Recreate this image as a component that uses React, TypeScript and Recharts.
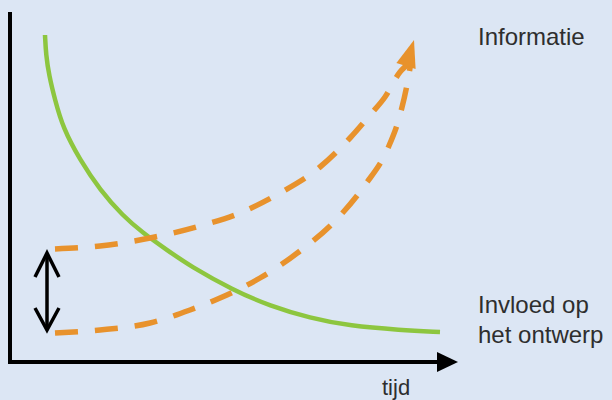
import { LineChart, Line, XAxis, YAxis, ReferenceLine, ReferenceDot } from 'recharts';

// tijd (x) en niveau (y)
const informatie = [
  { t: 35, v: 327 }, { t: 36, v: 307 }, { t: 39, v: 287 }, { t: 45, v: 262 },
  { t: 53, v: 234 }, { t: 70, v: 202 }, { t: 90, v: 172 }, { t: 113, v: 146 },
  { t: 133, v: 129 }, { t: 157, v: 112 }, { t: 180, v: 96 }, { t: 223, v: 72 },
  { t: 260, v: 56 }, { t: 300, v: 44 }, { t: 340, v: 36 }, { t: 390, v: 32 },
  { t: 430, v: 30 },
];

const invloedBoven = [
  { t: 45, v: 113 }, { t: 90, v: 116 }, { t: 140, v: 124 }, { t: 190, v: 136 },
  { t: 230, v: 149 }, { t: 270, v: 169 }, { t: 310, v: 195 }, { t: 340, v: 224 },
  { t: 360, v: 247 }, { t: 375, v: 265 }, { t: 390, v: 290 }, { t: 401, v: 300 },
];

const invloedOnder = [
  { t: 45, v: 29 }, { t: 90, v: 32 }, { t: 140, v: 39 }, { t: 180, v: 52 },
  { t: 210, v: 64 }, { t: 250, v: 84 }, { t: 290, v: 111 }, { t: 325, v: 141 },
  { t: 355, v: 177 }, { t: 378, v: 214 }, { t: 390, v: 247 }, { t: 397, v: 277 },
  { t: 401, v: 300 },
];

const pijlPunt = { t: 404, v: 322 };
const dubbelePijl = { t: 37, boven: 109, onder: 32 };
const asEinde = { t: 448, v: 350 };

const labels = {
  info: 'Informatie',
  invloed: ['Invloed op', 'het ontwerp'],
  tijd: 'tijd',
};

const GREEN = '#8dc63f';
const ORANGE = '#e8922c';
const BG = '#dce6f4';

const xArrow = (p: any) => (
  <polygon points={`${p.cx},${p.cy} ${p.cx - 21},${p.cy - 10} ${p.cx - 21},${p.cy + 10}`} fill="#000" />
);

const orangeHead = (p: any) => {
  const { cx, cy } = p;
  // punt schuin naar boven
  return (
    <polygon
      points={`${cx},${cy} ${cx + 1.6},${cy + 28.9} ${cx - 17.6},${cy + 23.1}`}
      fill={ORANGE}
    />
  );
};

const chevronUp = (p: any) => (
  <polyline
    points={`${p.cx - 12},${p.cy + 24} ${p.cx},${p.cy} ${p.cx + 12},${p.cy + 24}`}
    fill="none" stroke="#000" strokeWidth={3.5}
  />
);

const chevronDown = (p: any) => (
  <polyline
    points={`${p.cx - 12},${p.cy - 22} ${p.cx},${p.cy} ${p.cx + 12},${p.cy - 22}`}
    fill="none" stroke="#000" strokeWidth={3.5}
  />
);

const txt = { position: 'absolute' as const, fontFamily: '"Liberation Sans", Arial, sans-serif', color: '#2e2e2e', whiteSpace: 'nowrap' as const };

export default function App() {
  return (
    <div style={{ position: 'absolute', left: 0, top: 0, width: 612, height: 400, background: BG, overflow: 'hidden' }}>
      <LineChart width={612} height={400} margin={{ top: 13, right: 154, bottom: 38, left: 10 }}>
        <XAxis type="number" dataKey="t" domain={[0, 448]} hide allowDataOverflow />
        <YAxis type="number" dataKey="v" domain={[0, 349]} hide allowDataOverflow />
        <ReferenceLine segment={[{ x: 0, y: asEinde.v }, { x: 0, y: -2 }]} ifOverflow="visible" stroke="#000" strokeWidth={4} />
        <ReferenceLine segment={[{ x: -2, y: 0 }, { x: asEinde.t - 12, y: 0 }]} ifOverflow="visible" stroke="#000" strokeWidth={4} />
        <ReferenceDot x={asEinde.t} y={0} ifOverflow="visible" shape={xArrow} />
        <Line data={informatie} dataKey="v" type="basis" stroke={GREEN} strokeWidth={4.5} dot={false} isAnimationActive={false} />
        <Line data={invloedBoven} dataKey="v" type="monotone" stroke={ORANGE} strokeWidth={5.5} strokeDasharray="23 17" dot={false} isAnimationActive={false} />
        <Line data={invloedOnder} dataKey="v" type="monotone" stroke={ORANGE} strokeWidth={5.5} strokeDasharray="23 17" dot={false} isAnimationActive={false} />
        <ReferenceDot x={pijlPunt.t} y={pijlPunt.v} ifOverflow="visible" shape={orangeHead} />
        <ReferenceLine segment={[{ x: dubbelePijl.t, y: dubbelePijl.boven }, { x: dubbelePijl.t, y: dubbelePijl.onder }]} stroke="#000" strokeWidth={3.5} />
        <ReferenceDot x={dubbelePijl.t} y={dubbelePijl.boven} ifOverflow="visible" shape={chevronUp} />
        <ReferenceDot x={dubbelePijl.t} y={dubbelePijl.onder} ifOverflow="visible" shape={chevronDown} />
      </LineChart>
      <div style={{ ...txt, left: 478, top: 22, fontSize: 24, lineHeight: '30px' }}>{labels.info}</div>
      <div style={{ ...txt, left: 478, top: 290, fontSize: 24, lineHeight: '30px' }}>
        {labels.invloed.map((l) => <div key={l}>{l}</div>)}
      </div>
      <div style={{ ...txt, left: 382, top: 377, fontSize: 22, lineHeight: '22px' }}>{labels.tijd}</div>
    </div>
  );
}
